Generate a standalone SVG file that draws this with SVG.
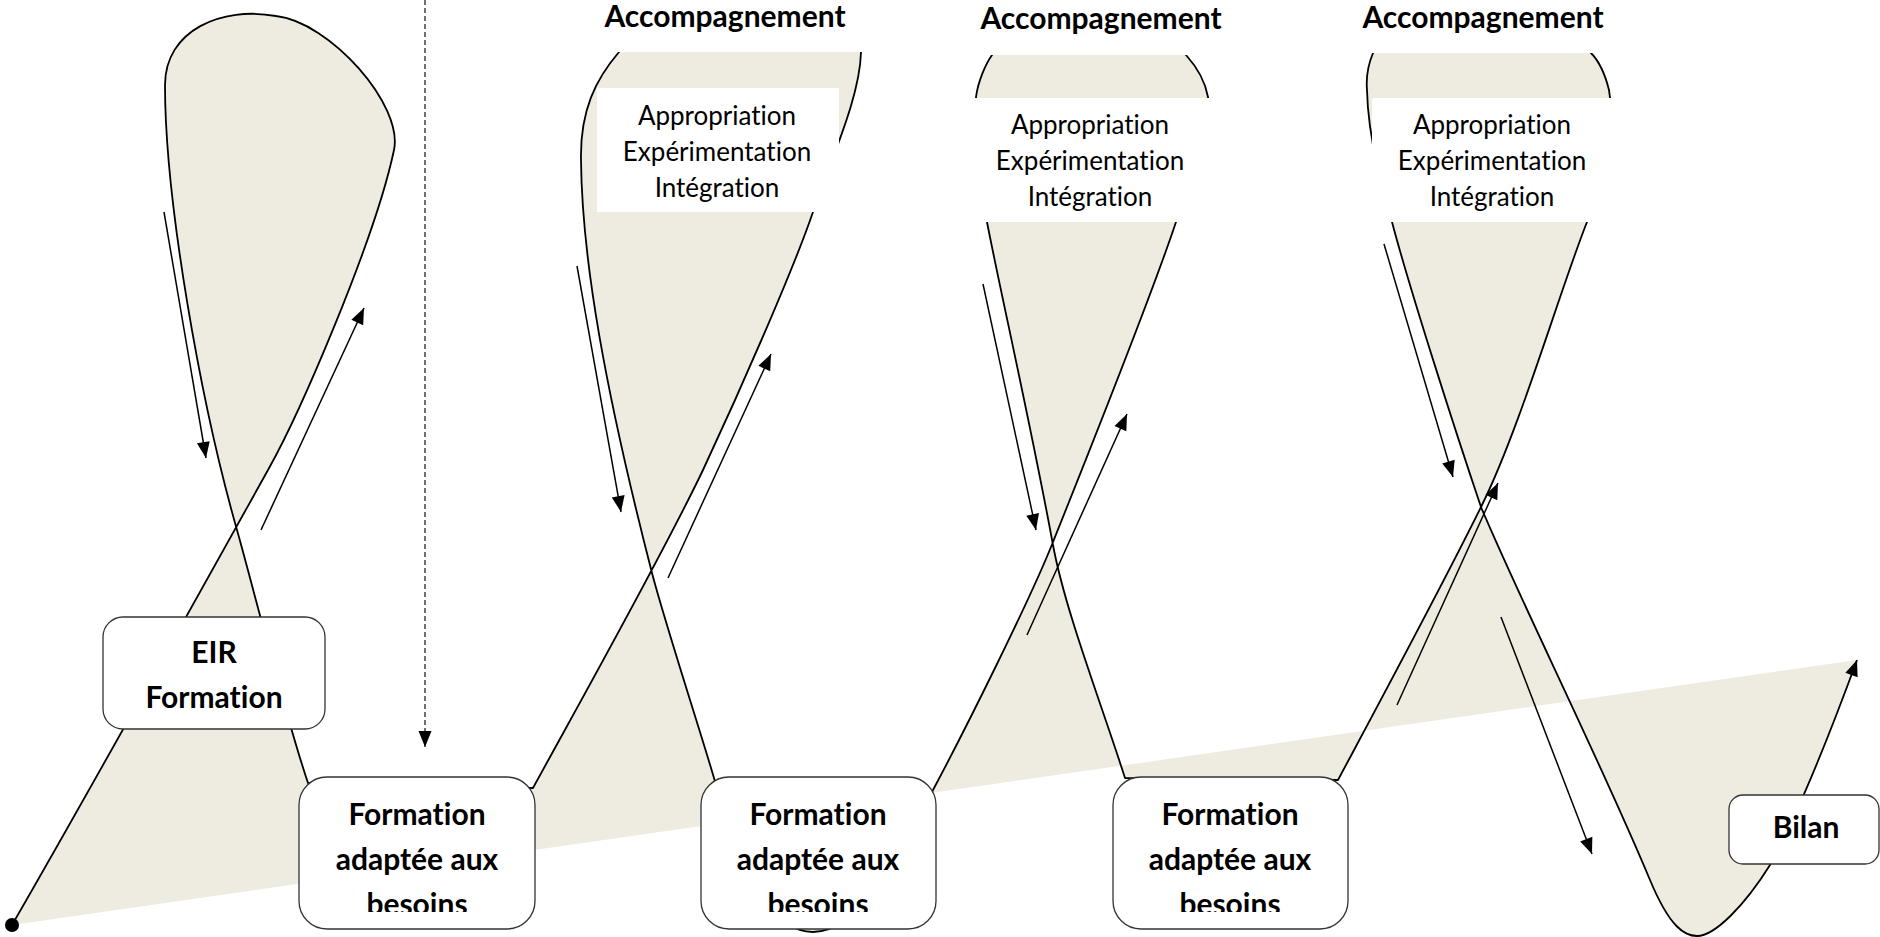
<svg xmlns="http://www.w3.org/2000/svg" width="1880" height="937" viewBox="0 0 1880 937">
<defs>
<style>
.fill{fill:#EEECE1;fill-rule:evenodd;stroke:none}
.curve{fill:none;stroke:#000;stroke-width:1.8;stroke-linejoin:round}
.bg{fill:#fff;stroke:none}
.box{fill:#fff;stroke:#333;stroke-width:1.3}
.arr{fill:none;stroke:#000;stroke-width:1.5;marker-end:url(#ah)}
.dash{fill:none;stroke:#404040;stroke-width:1.5;stroke-dasharray:5 3;marker-end:url(#ah)}
.b{font-family:Lato,"Liberation Sans",sans-serif;font-weight:bold;font-size:30px;fill:#000;text-anchor:middle;font-variant-ligatures:none;font-feature-settings:"liga" 0}
.r{font-family:Lato,"Liberation Sans",sans-serif;font-size:26px;fill:#000;text-anchor:middle;font-variant-ligatures:none;font-feature-settings:"liga" 0}
</style>
<marker id="ah" markerUnits="userSpaceOnUse" markerWidth="17" markerHeight="13" refX="16" refY="6.5" orient="auto" overflow="visible">
<path d="M0,0 L16,6.5 L0,13 z" fill="#000"/>
</marker>
<clipPath id="clipb"><rect x="0" y="0" width="1880" height="912"/></clipPath>
</defs>

<g id="ribbon">
<path class="fill" d="M12,925 C90,790 190,610 268,470 C300,413 375,240 394,150 C403.5,105 330,22 276,16 C222,6 165,30 165,85 C165,200 200,400 237,530 C252,583 285,715 308,783 L533,788 C570,720 660,560 703,470 C745,380 795,265 813,212 C835,150 860,95 861,52 C862,10 650,15 619,52 C596,79 580,110 581,160 C582,260 605,390 652,573 C665,623 700,730 714,778 C740,870 770,932 813,932 C860,932 910,850 933,790 C965,730 1030,600 1053,542 C1085,462 1150,300 1176,222 C1195,165 1212,120 1208,97 C1205,80 1195,65 1186,55 C1150,5 1020,5 992,55 C985,65 978,82 976,97 C974,150 982,200 987,222 C1000,290 1030,420 1053,545 C1065,610 1100,700 1125,778 L1338,780 C1370,720 1440,590 1482,505 C1520,428 1560,290 1587,222 C1605,170 1616,130 1609,90 C1604,70 1598,60 1591,53 C1560,5 1400,5 1373,53 C1368,65 1366,78 1367,90 C1368,140 1385,200 1392,222 C1410,290 1455,430 1481,507 C1520,600 1600,760 1650,880 C1670,928 1685,936 1697,936 C1715,936 1745,905 1770,865 C1800,810 1835,720 1857,660 Z"/>
<path class="curve" marker-end="url(#ah)" d="M12,925 C90,790 190,610 268,470 C300,413 375,240 394,150 C403.5,105 330,22 276,16 C222,6 165,30 165,85 C165,200 200,400 237,530 C252,583 285,715 308,783 L533,788 C570,720 660,560 703,470 C745,380 795,265 813,212 C835,150 860,95 861,52 C862,10 650,15 619,52 C596,79 580,110 581,160 C582,260 605,390 652,573 C665,623 700,730 714,778 C740,870 770,932 813,932 C860,932 910,850 933,790 C965,730 1030,600 1053,542 C1085,462 1150,300 1176,222 C1195,165 1212,120 1208,97 C1205,80 1195,65 1186,55 C1150,5 1020,5 992,55 C985,65 978,82 976,97 C974,150 982,200 987,222 C1000,290 1030,420 1053,545 C1065,610 1100,700 1125,778 L1338,780 C1370,720 1440,590 1482,505 C1520,428 1560,290 1587,222 C1605,170 1616,130 1609,90 C1604,70 1598,60 1591,53 C1560,5 1400,5 1373,53 C1368,65 1366,78 1367,90 C1368,140 1385,200 1392,222 C1410,290 1455,430 1481,507 C1520,600 1600,760 1650,880 C1670,928 1685,936 1697,936 C1715,936 1745,905 1770,865 C1800,810 1835,720 1857,660"/>
<circle cx="12" cy="925" r="7" fill="#000"/>
</g>

<g id="accompagnement-1">
<rect class="bg" x="600" y="0" width="282" height="52"/>
<text class="b" x="725" y="27">Accompagnement</text>
</g>
<g id="accompagnement-2">
<rect class="bg" x="960" y="0" width="270" height="55"/>
<text class="b" x="1101" y="29">Accompagnement</text>
</g>
<g id="accompagnement-3">
<rect class="bg" x="1345" y="0" width="290" height="53"/>
<text class="b" x="1483" y="28">Accompagnement</text>
</g>

<g id="phase-1">
<rect class="bg" x="597" y="88" width="242" height="124"/>
<text class="r"><tspan x="717" y="125">Appropriation</tspan><tspan x="717" y="161">Expérimentation</tspan><tspan x="717" y="197">Intégration</tspan></text>
</g>
<g id="phase-2">
<rect class="bg" x="966" y="98" width="248" height="124"/>
<text class="r"><tspan x="1090" y="134">Appropriation</tspan><tspan x="1090" y="170">Expérimentation</tspan><tspan x="1090" y="206">Intégration</tspan></text>
</g>
<g id="phase-3">
<rect class="bg" x="1372" y="98" width="240" height="124"/>
<text class="r"><tspan x="1492" y="134">Appropriation</tspan><tspan x="1492" y="170">Expérimentation</tspan><tspan x="1492" y="206">Intégration</tspan></text>
</g>

<g id="connectors">
<line class="arr" x1="164" y1="212" x2="206" y2="458"/>
<line class="arr" x1="261" y1="530" x2="364" y2="308"/>
<line class="arr" x1="577" y1="266" x2="621" y2="512"/>
<line class="arr" x1="668" y1="578" x2="771" y2="354"/>
<line class="arr" x1="983" y1="284" x2="1036" y2="530"/>
<line class="arr" x1="1027" y1="635" x2="1127" y2="414"/>
<line class="arr" x1="1384" y1="244" x2="1453" y2="477"/>
<line class="arr" x1="1397" y1="705" x2="1498" y2="483"/>
<line class="arr" x1="1501" y1="617" x2="1592" y2="854"/>
<line class="dash" x1="425" y1="0" x2="425" y2="747"/>
</g>

<g id="node-eir">
<rect class="box" x="103" y="617" width="222" height="112" rx="20"/>
<text class="b" x="214" y="663">EIR</text>
<text class="b" x="214" y="708">Formation</text>
</g>
<g id="node-formation-1">
<rect class="box" x="299" y="777" width="236" height="152" rx="28"/>
<g clip-path="url(#clipb)"><text class="b"><tspan x="417" y="825">Formation</tspan><tspan x="417" y="870">adaptée aux</tspan><tspan x="417" y="915">besoins</tspan></text></g>
</g>
<g id="node-formation-2">
<rect class="box" x="701" y="777" width="235" height="152" rx="28"/>
<g clip-path="url(#clipb)"><text class="b"><tspan x="818" y="825">Formation</tspan><tspan x="818" y="870">adaptée aux</tspan><tspan x="818" y="915">besoins</tspan></text></g>
</g>
<g id="node-formation-3">
<rect class="box" x="1113" y="777" width="235" height="152" rx="28"/>
<g clip-path="url(#clipb)"><text class="b"><tspan x="1230" y="825">Formation</tspan><tspan x="1230" y="870">adaptée aux</tspan><tspan x="1230" y="915">besoins</tspan></text></g>
</g>
<g id="node-bilan">
<rect class="box" x="1729" y="795" width="150" height="69" rx="14"/>
<text class="b" x="1806" y="838">Bilan</text>
</g>
</svg>
